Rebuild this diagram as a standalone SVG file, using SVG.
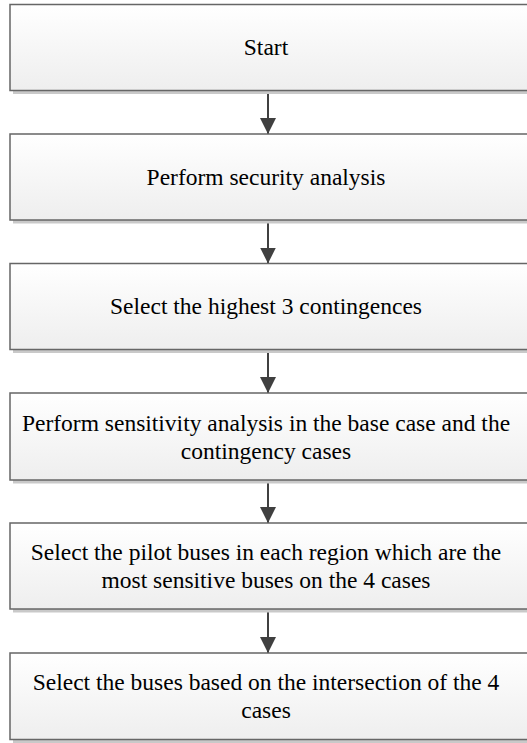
<svg xmlns="http://www.w3.org/2000/svg" width="527" height="743" viewBox="0 0 527 743">
  <defs>
    <linearGradient id="boxFill" x1="0" y1="0" x2="0" y2="1">
      <stop offset="0" stop-color="#ffffff"/>
      <stop offset="1" stop-color="#eeeeee"/>
    </linearGradient>
    <marker id="arrowHead" markerUnits="userSpaceOnUse" markerWidth="18" markerHeight="16" refX="16" refY="8" orient="auto">
      <path d="M0,0 L16,8 L0,16 Z" fill="#404040"/>
    </marker>
  </defs>
  <style>
    .shadow { fill: #c9c9c9; }
    .box { fill: url(#boxFill); stroke: #666666; stroke-width: 1.5; }
    .label { font-family: 'Liberation Serif', 'Times New Roman', serif; font-size: 23.5px; fill: #000000; text-anchor: middle; }
    .conn { stroke: #404040; stroke-width: 2; fill: none; marker-end: url(#arrowHead); }
  </style>
  <rect width="527" height="743" fill="#ffffff"/>

  <!-- downward flow arrows between the steps -->
  <g id="connectors">
    <line class="conn" x1="268" y1="91" x2="268" y2="134"/>
    <line class="conn" x1="268" y1="220" x2="268" y2="263.5"/>
    <line class="conn" x1="268" y1="350" x2="268" y2="393"/>
    <line class="conn" x1="268" y1="480" x2="268" y2="523"/>
    <line class="conn" x1="268" y1="609" x2="268" y2="653"/>
  </g>

  <g id="start">
    <rect class="shadow" x="13" y="8" width="520" height="86"/>
    <rect class="box" x="10" y="4.5" width="520" height="86"/>
    <text class="label" x="266" y="55">Start</text>
  </g>

  <g id="security-analysis">
    <rect class="shadow" x="13" y="137.5" width="520" height="86"/>
    <rect class="box" x="10" y="134" width="520" height="86"/>
    <text class="label" x="266" y="185">Perform security analysis</text>
  </g>

  <g id="select-contingences">
    <rect class="shadow" x="13" y="267" width="520" height="86"/>
    <rect class="box" x="10" y="263.5" width="520" height="86"/>
    <text class="label" x="266" y="314">Select the highest 3 contingences</text>
  </g>

  <g id="sensitivity-analysis">
    <rect class="shadow" x="13" y="396.5" width="520" height="87"/>
    <rect class="box" x="10" y="393" width="520" height="87"/>
    <text class="label" x="266" y="430.5">Perform sensitivity analysis in the base case and the</text>
    <text class="label" x="266" y="459">contingency cases</text>
  </g>

  <g id="pilot-buses">
    <rect class="shadow" x="13" y="526.5" width="520" height="86"/>
    <rect class="box" x="10" y="523" width="520" height="86"/>
    <text class="label" x="266" y="559.5">Select the pilot buses in each region which are the</text>
    <text class="label" x="266" y="588">most sensitive buses on the 4 cases</text>
  </g>

  <g id="intersection">
    <rect class="shadow" x="13" y="656.5" width="520" height="86.5"/>
    <rect class="box" x="10" y="653" width="520" height="86.5"/>
    <text class="label" x="266" y="689.5">Select the buses based on the intersection of the 4</text>
    <text class="label" x="266" y="718">cases</text>
  </g>
</svg>
